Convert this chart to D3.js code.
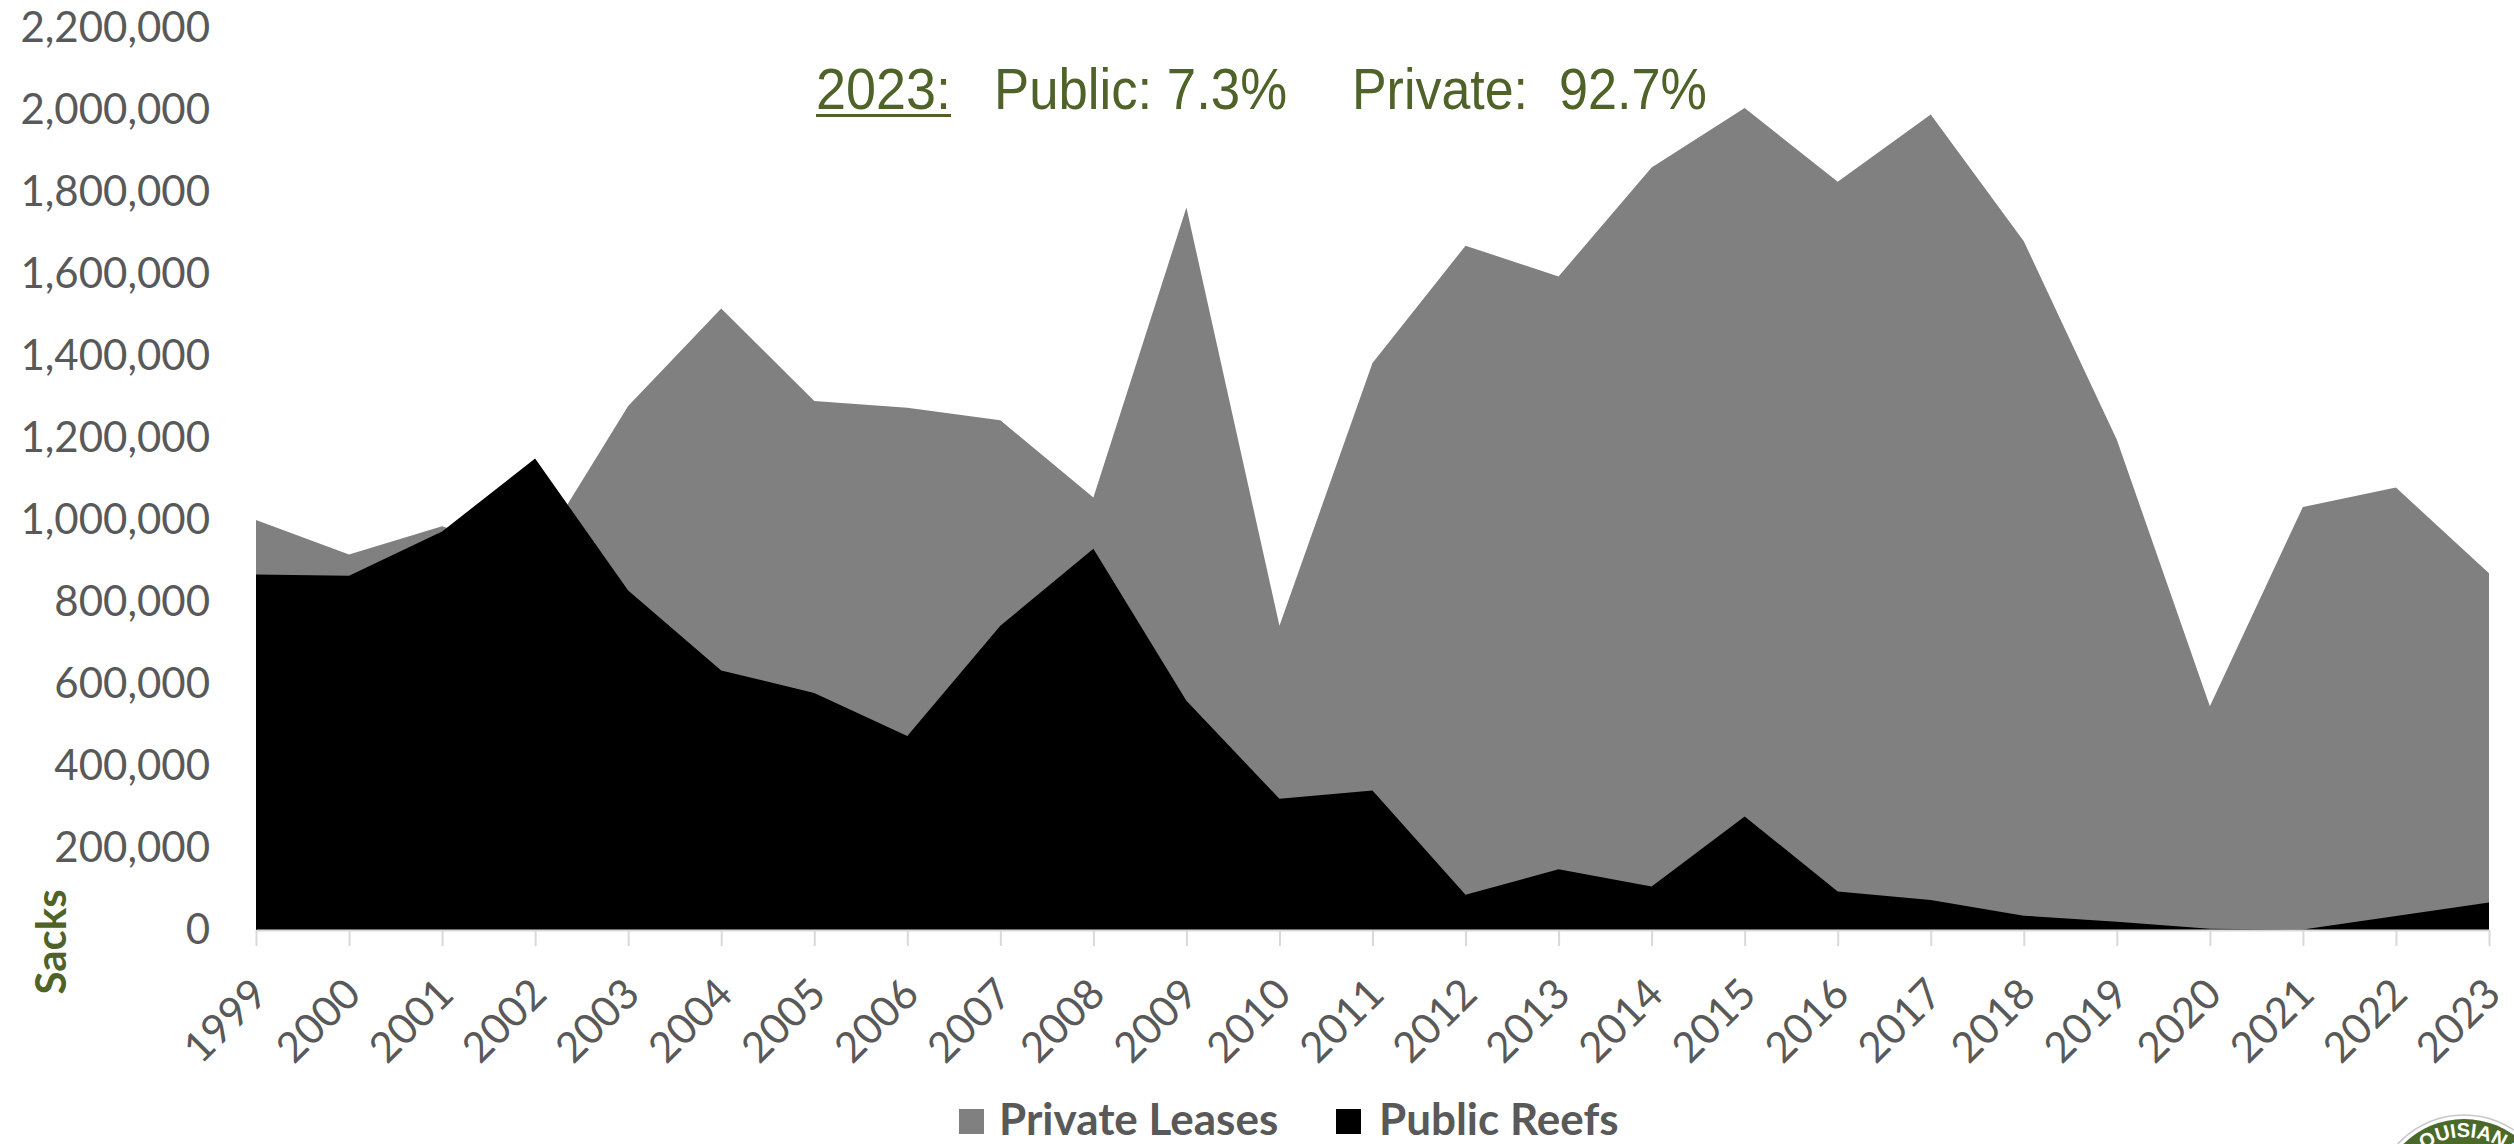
<!DOCTYPE html>
<html>
<head>
<meta charset="utf-8">
<script src="https://cdn.jsdelivr.net/npm/d3@7/dist/d3.min.js"></script>
<style>
  html, body { margin: 0; padding: 0; background: #ffffff; overflow: hidden; }
  svg { display: block; }
</style>
</head>
<body>
<svg id="chart" width="2514" height="1144"></svg>
<script>
// ---- data ----
const years = ["1999","2000","2001","2002","2003","2004","2005","2006","2007","2008","2009","2010","2011","2012","2013","2014","2015","2016","2017","2018","2019","2020","2021","2022","2023"];
const privateLeases = [1000000, 916000, 985000, 910000, 1278000, 1516000, 1290000, 1274000, 1243000, 1055000, 1762000, 742000, 1383000, 1669000, 1594000, 1860000, 2005000, 1825000, 1989000, 1680000, 1196000, 546000, 1032000, 1079000, 870000];
const publicReefs = [867000, 864000, 972000, 1150000, 828000, 633000, 578000, 473000, 742000, 930000, 559000, 320000, 340000, 86000, 148000, 106000, 277000, 94000, 73000, 35000, 20000, 3000, 1000, 34000, 67000];
const yTickValues = [0, 200000, 400000, 600000, 800000, 1000000, 1200000, 1400000, 1600000, 1800000, 2000000, 2200000];
const seriesNames = ["Private Leases", "Public Reefs"];
const titleParts = ["2023:", "Public: 7.3%", "Private:", "92.7%"];

const svg = d3.select("#chart");
const x = d3.scalePoint().domain(years).range([256, 2489]);
const y = d3.scaleLinear().domain([0, 2200000]).range([930, 28]);

// ---- areas (overlapping, private behind public) ----
const areaGen = d3.area()
  .x((d, i) => x(years[i]))
  .y0(y(0))
  .y1(d => y(d));

svg.append("path").datum(privateLeases).attr("d", areaGen).attr("fill", "#808080");
svg.append("path").datum(publicReefs).attr("d", areaGen).attr("fill", "#000000");

// ---- x axis ----
const xAxis = svg.append("g").attr("transform", "translate(0,930)")
  .call(d3.axisBottom(x).tickSize(16).tickSizeOuter(0));
xAxis.select(".domain").attr("stroke", "#D9D9D9").attr("stroke-width", 2);
xAxis.selectAll(".tick line").attr("stroke", "#D9D9D9").attr("stroke-width", 2);
xAxis.selectAll(".tick text")
  .attr("x", null).attr("y", null).attr("dy", "0.35em")
  .attr("text-anchor", "end")
  .attr("transform", "translate(3,56) rotate(-45)")
  .attr("fill", "#595959")
  .style("font-family", "Lato, 'Open Sans', sans-serif")
  .style("font-size", "42px");

// ---- y axis ----
const yAxis = svg.append("g").attr("transform", "translate(256,0)")
  .call(d3.axisLeft(y).tickValues(yTickValues).tickFormat(d3.format(",")).tickSize(0).tickPadding(46));
yAxis.select(".domain").remove();
yAxis.selectAll(".tick text")
  .attr("fill", "#595959")
  .style("font-family", "Lato, 'Open Sans', sans-serif")
  .style("font-size", "42px");

// ---- y axis title ----
svg.append("text")
  .attr("transform", "translate(66,942) rotate(-90)")
  .attr("text-anchor", "middle")
  .attr("fill", "#4F6228")
  .style("font-family", "Lato, 'Open Sans', sans-serif")
  .style("font-weight", "bold")
  .style("font-size", "42px")
  .text("Sacks");

// ---- title annotation ----
const titleFont = "'Liberation Sans Narrow', 'Arial Narrow', 'Liberation Sans', Arial, sans-serif";
const titlePos = [[816, 135], [994, 293], [1352, 176], [1559, 148]];
titleParts.forEach((t, i) => {
  svg.append("text")
    .attr("x", titlePos[i][0]).attr("y", 109)
    .attr("textLength", titlePos[i][1])
    .attr("lengthAdjust", "spacingAndGlyphs")
    .attr("fill", "#4F6228")
    .style("font-family", titleFont)
    .style("font-size", "58px")
    .text(t);
});
svg.append("rect").attr("x", 816).attr("y", 114).attr("width", 135).attr("height", 3).attr("fill", "#4F6228");

// ---- legend ----
const legend = svg.append("g");
const legendItems = [
  {name: seriesNames[0], color: "#808080", sx: 959, tx: 999},
  {name: seriesNames[1], color: "#000000", sx: 1336, tx: 1379}
];
legendItems.forEach(it => {
  legend.append("rect").attr("x", it.sx).attr("y", 1109).attr("width", 25).attr("height", 25).attr("fill", it.color);
  legend.append("text").attr("x", it.tx).attr("y", 1135)
    .attr("fill", "#595959")
    .style("font-family", "Lato, 'Open Sans', sans-serif")
    .style("font-weight", "bold")
    .style("font-size", "44px")
    .text(it.name);
});

// ---- logo (partially visible at the corner) ----
const logo = svg.append("g").attr("transform", "translate(2464,1205)");
logo.append("circle").attr("r", 90).attr("fill", "#ffffff").attr("stroke", "#c8c8c8").attr("stroke-width", 1.5);
logo.append("circle").attr("r", 86).attr("fill", "#4B6A2A");
logo.append("path").attr("id", "logoArc").attr("fill", "none")
  .attr("d", "M -68 0 A 68 68 0 0 1 68 0");
logo.append("text")
  .attr("fill", "#ffffff")
  .style("font-family", "'Liberation Sans', Arial, sans-serif")
  .style("font-weight", "bold")
  .style("font-size", "20px")
  .append("textPath").attr("href", "#logoArc").attr("startOffset", "50%").attr("text-anchor", "middle")
  .text("LOUISIANA");
</script>
</body>
</html>
